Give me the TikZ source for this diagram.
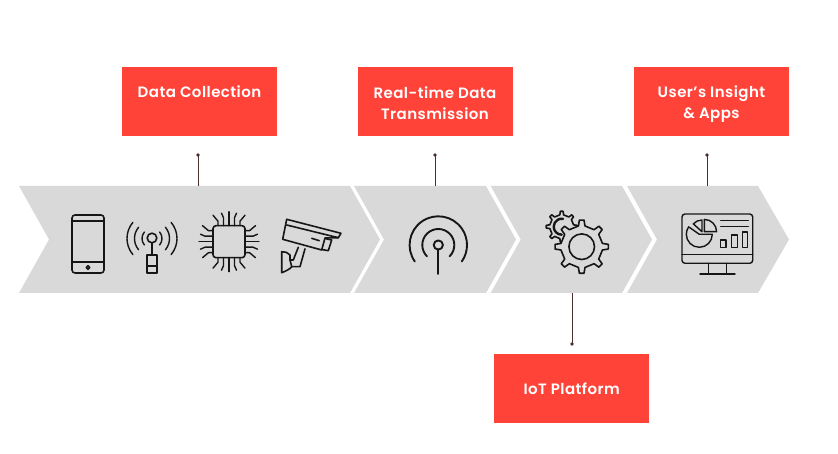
\documentclass[tikz,border=0pt]{standalone}
\usepackage{fontspec}
\setmainfont{Poppins}[BoldFont={Poppins SemiBold},BoldFeatures={LetterSpace=3}]
\usetikzlibrary{calc}
\definecolor{boxred}{HTML}{FF4339}
\definecolor{chev}{HTML}{D9D9D9}
\definecolor{conn}{HTML}{4A3030}
\definecolor{ink}{HTML}{161616}
\tikzset{
  chevron/.style={fill=chev,draw=none},
  label box/.style={fill=boxred,draw=none,text=white,minimum width=155pt,minimum height=69pt,inner sep=0pt,align=center,font=\bfseries\fontsize{15}{21}\selectfont},
  dotmark/.style={circle,fill=conn,draw=none,minimum size=3.8pt,inner sep=0pt},
  link/.style={draw=conn,line width=0.9pt},
  icon/.style={draw=ink,line width=1.6pt,line join=round,line cap=round},
  thin icon/.style={icon,line width=1.4pt},
}
\newcommand{\gearshape}[6]{% cx cy outer root teeth halfwidth-top
  \path[icon,fill=chev,shift={(#1,#2)}]
    (-#6:#3) \foreach \i in {1,...,#5}{
      -- ({(\i-1)*360/#5+#6}:#3)
      -- ({(\i-1)*360/#5+#6+4}:#4)
      -- ({\i*360/#5-#6-4}:#4)
      -- ({\i*360/#5-#6}:#3)
    } -- cycle;
}
\begin{document}
\begin{tikzpicture}[x=1pt,y=1pt,yscale=-1]
\useasboundingbox (0,0) rectangle (838,454);
% chevrons
\fill[chevron] (19,186) -- (350,186) -- (380,239.5) -- (350,293) -- (19,293) -- (49,239.5) -- cycle;
\fill[chevron] (354,186) -- (486,186) -- (516,239.5) -- (486,293) -- (354,293) -- (384,239.5) -- cycle;
\fill[chevron] (490.7,186) -- (622,186) -- (652,239.5) -- (622,293) -- (490.7,293) -- (520.7,239.5) -- cycle;
\fill[chevron] (627,186) -- (758,186) -- (789,239.5) -- (758,293) -- (627,293) -- (657,239.5) -- cycle;
\coordinate (c1) at (198,186);
\coordinate (c2) at (435,186);
\coordinate (c3) at (572,293);
\coordinate (c4) at (707,186);
% label boxes
\node[label box] (b1) at (199.5,101.5) {\raisebox{-1pt}{Data Collection}\\\mbox{}};
\node[label box] (b2) at (435,101.5) {\rule{0pt}{16pt}Real-time Data\\Transmission};
\node[label box] (b3) at (571.7,388.5) {\raisebox{-1pt}{IoT Platform}};
\node[label box] (b4) at (711.5,101.5) {\rule{0pt}{16pt}User’s Insight\\\& Apps};
% connectors
\node[dotmark] (d1) at (198,155) {};
\node[dotmark] (d2) at (435,155) {};
\node[dotmark] (d3) at (572,344) {};
\node[dotmark] (d4) at (707,155) {};
\draw[link] (d1.center) -- (c1);
\draw[link] (d2.center) -- (c2);
\draw[link] (d3.center) -- (c3);
\draw[link] (d4.center) -- (c4);
% phone
\draw[icon,rounded corners=3pt] (72,215) rectangle (104,273);
\draw[icon] (72,221) -- (104,221) (72,262) -- (104,262);
\draw[icon] (88,267.5) circle (1.7pt);
% tower
\draw[icon] (152,238) circle (4.8pt);
\draw[icon] (152,243) -- (152,255);
\draw[icon] (147,255) rectangle (157,273);
\draw[icon] (147,266) -- (157,266);
\foreach \r/\a in {10/40,17.5/40,25/40}{
  \draw[thin icon] ($(152,238.5)+({180-\a}:\r)$) arc ({180-\a}:{180+\a}:\r);
  \draw[thin icon] ($(152,238.5)+({-\a}:\r)$) arc (-\a:\a:\r);
}
% chip
\draw[icon,rounded corners=3pt] (213,225.7) rectangle (245,257.7);
\foreach \ang in {0,90,180,270}{
  \begin{scope}[shift={(229,241.7)},rotate=\ang]
    \draw[thin icon] (0,16) -- (0,30);
    \foreach \s in {1,-1}{
      \draw[thin icon] (\s*5.5,16) -- (\s*5.5,24) -- (\s*7.5,28.5);
      \draw[thin icon] (\s*11,16) -- (\s*11,20.5) -- (\s*16,26.5);
    }
  \end{scope}
}
% camera
\draw[icon] (286.7,219.3) -- (341,233.3) -- (338.3,237.7) -- (325,238) -- (321.7,250) -- (282.7,239.3) -- cycle;
\draw[icon] (286.7,225) -- (338.3,237.7);
\draw[icon] (311.7,238.3) -- (319.3,240.7);
\draw[icon] (325,238.5) -- (331.7,240) -- (328.3,250.7) -- (321.7,249.5);
\draw[icon] (298.3,247.3) -- (293.3,260) -- (290,260) (305,248.8) -- (300,266.7) -- (291.7,266.7);
\draw[icon] (281.7,251.7) -- (281.7,272.7) .. controls (286,271) and (289.5,269.5) .. (291.7,266.7) -- (290,260) -- (290,255) .. controls (288,252.5) and (285,251.5) .. (281.7,251.7) -- cycle;
% signal icon
\coordinate (sg) at (438.3,245);
\draw[icon,line width=1.9pt] (sg) circle (4.6pt);
\draw[icon,line width=1.9pt] (438.3,250) -- (438.3,274);
\draw[icon,line width=1.9pt] ($(sg)+(135:16)$) arc (135:405:16);
\draw[icon,line width=1.9pt] ($(sg)+(145:28.7)$) arc (145:395:28.7);
% gears
\gearshape{561.7}{226.7}{15.5}{12}{8}{5}
\draw[icon,line width=2.4pt] ($(561.7,226.7)+(90:8)$) arc (90:280:8);
\gearshape{581.7}{246.7}{26.7}{21}{8}{5}
\draw[icon] (581.7,246.7) circle (12.8pt);
% monitor
\draw[thin icon,rounded corners=3pt] (682,214) rectangle (752.7,263.3);
\draw[thin icon] (682,254.3) -- (752.7,254.3);
\draw[thin icon] (708.3,263.3) -- (708.3,274) (726.7,263.3) -- (726.7,274) (700,274) -- (735,274);
\draw[thin icon] (704.3,231.7) -- (704.3,219.4) arc (270:360:12.3) -- cycle;
\draw[thin icon] (702,231.7) -- (702,220) arc (270:222:11.7) -- cycle;
\draw[thin icon] (699.3,234.3) -- (712.3,234.3) arc (0:215:13) -- cycle;
\draw[thin icon] (720.7,220.7) -- (748.3,220.7) (720.7,226.7) -- (748.3,226.7);
\draw[thin icon] (720.7,240) rectangle (726,247.3);
\draw[thin icon] (731.7,235) rectangle (737.3,247.3);
\draw[thin icon] (742.3,232) rectangle (747.7,247.3);
\end{tikzpicture}
\end{document}
